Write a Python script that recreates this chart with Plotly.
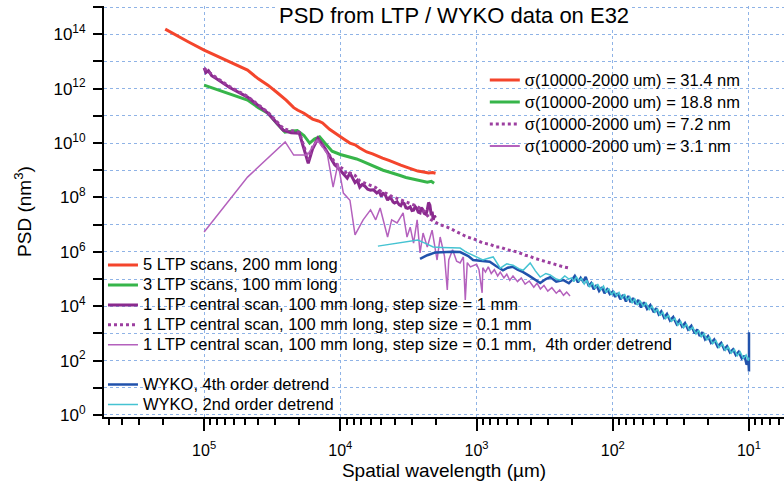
import plotly.graph_objects as go

# ---------------- data (wavelength in um, PSD in nm^3) ----------------
red_x = [1.93e5, 1.6e5, 1.3e5, 1.0e5, 8.0e4, 6.2e4, 4.8e4, 4.0e4, 3.4e4, 2.9e4, 2.5e4, 2.2e4,
         2.05e4, 1.85e4, 1.6e4, 1.45e4, 1.35e4, 1.2e4, 1.05e4, 9.5e3, 8.5e3, 7.8e3, 7.2e3, 6.4e3,
         5.8e3, 5.3e3, 4.9e3, 4.4e3, 4.0e3, 3.6e3, 3.2e3, 2.9e3, 2.7e3, 2.45e3, 2.25e3, 2.1e3, 2.0e3]
red_y = [1.55e14, 9.1e13, 5.2e13, 2.6e13, 1.55e13, 8.5e12, 4.8e12, 2.3e12, 1.35e12, 7.1e11, 3.8e11, 2.0e11,
         1.6e11, 1.25e11, 7.6e10, 6.5e10, 5.5e10, 3.2e10, 1.95e10, 1.45e10, 1.0e10, 8.6e9, 6.6e9, 4.7e9,
         4.0e9, 3.2e9, 2.8e9, 2.3e9, 1.85e9, 1.55e9, 1.25e9, 1.05e9, 9.3e8, 8.6e8, 8.0e8, 8.3e8, 7.8e8]

green_x = [1.0e5, 8.0e4, 6.2e4, 4.8e4, 4.0e4, 3.4e4, 2.9e4, 2.55e4, 2.3e4, 2.07e4, 1.85e4, 1.68e4,
           1.55e4, 1.42e4, 1.3e4, 1.15e4, 1.0e4, 9.2e3, 8.5e3, 7.6e3, 7.0e3, 6.4e3, 5.8e3, 5.3e3,
           4.85e3, 4.4e3, 4.0e3, 3.64e3, 3.3e3, 3.0e3, 2.73e3, 2.5e3, 2.3e3, 2.15e3, 2.05e3]
green_y = [1.35e12, 9.1e11, 5.9e11, 3.8e11, 2.0e11, 1.26e11, 5.0e10, 2.5e10, 2.7e10, 2.9e10, 1.9e10, 1.0e10,
           1.4e10, 1.7e10, 1.0e10, 5.0e9, 3.8e9, 3.4e9, 3.1e9, 2.6e9, 2.2e9, 1.8e9, 1.5e9, 1.25e9,
           1.0e9, 8.6e8, 7.6e8, 6.4e8, 5.4e8, 4.9e8, 4.3e8, 4.1e8, 3.6e8, 3.9e8, 3.3e8]

ltp1_x = [1.0e5, 9.7e4, 9.3e4, 8.8e4, 8.0e4, 6.5e4, 4.8e4, 3.4e4, 2.63e4, 2.3e4, 2.0e4, 1.85e4,
          1.72e4, 1.6e4, 1.46e4, 1.3e4, 1.19e4, 1.1e4, 1.05e4, 1.0e4, 9.4e3, 8.9e3, 8.5e3, 8.1e3,
          7.8e3, 7.5e3, 7.2e3, 6.9e3, 6.6e3, 6.3e3, 6.0e3, 5.7e3, 5.4e3, 5.2e3, 5.0e3, 4.85e3,
          4.7e3, 4.5e3, 4.35e3, 4.2e3, 4.1e3, 4.0e3, 3.83e3, 3.7e3, 3.6e3, 3.5e3, 3.4e3, 3.3e3,
          3.2e3, 3.07e3, 2.98e3, 2.9e3, 2.82e3, 2.75e3, 2.68e3, 2.6e3, 2.55e3, 2.5e3, 2.42e3,
          2.35e3, 2.3e3, 2.25e3, 2.2e3, 2.15e3, 2.12e3, 2.08e3, 2.04e3, 2.0e3]
ltp1_y = [5.8e12, 3.9e12, 4.6e12, 3.0e12, 2.2e12, 1.1e12, 4.9e11, 1.26e11, 3.0e10, 2.4e10, 2.3e10, 6.0e9,
          1.8e9, 6.0e9, 1.5e10, 6.5e9, 3.1e9, 1.6e9, 1.3e9, 1.0e9, 7.0e8, 5.1e8, 7.9e8, 4.6e8,
          3.5e8, 4.2e8, 2.4e8, 3.0e8, 2.6e8, 2.0e8, 1.86e8, 1.9e8, 1.45e8, 1.7e8, 1.1e8, 1.4e8,
          1.3e8, 7.9e7, 1.0e8, 8.5e7, 6.8e7, 6.2e7, 7.0e7, 5.4e7, 5.0e7, 6.6e7, 6.0e7, 4.2e7,
          4.0e7, 4.5e7, 3.3e7, 3.4e7, 4.6e7, 4.0e7, 2.9e7, 2.7e7, 4.2e7, 3.8e7, 2.6e7,
          2.4e7, 3.5e7, 6.5e7, 5.2e7, 2.2e7, 3.0e7, 1.5e7, 2.1e7, 1.8e7]

ltp01_x = [1.0e5, 9.5e4, 9.0e4, 8.0e4, 6.5e4, 4.8e4, 3.4e4, 2.6e4, 2.0e4, 1.85e4, 1.72e4, 1.6e4,
           1.46e4, 1.3e4, 1.19e4, 1.05e4, 9.5e3, 8.9e3, 8.5e3, 7.8e3, 7.2e3, 6.5e3, 6.0e3, 5.5e3,
           5.0e3, 4.6e3, 4.2e3, 3.9e3, 3.5e3, 3.2e3, 3.0e3, 2.75e3, 2.6e3, 2.4e3, 2.2e3, 2.0e3,
           1.8e3, 1.64e3, 1.5e3, 1.35e3, 1.17e3, 1.05e3, 9.5e2, 8.95e2, 8.0e2, 7.2e2, 6.7e2, 6.0e2,
           5.5e2, 5.0e2, 4.4e2, 4.1e2, 3.8e2, 3.5e2, 3.3e2, 2.9e2, 2.7e2, 2.5e2, 2.3e2, 2.06e2]
ltp01_y = [5.5e12, 4.5e12, 3.8e12, 2.4e12, 1.2e12, 5.2e11, 1.35e11, 3.3e10, 2.5e10, 8.0e9, 2.5e9, 7.0e9,
           1.4e10, 6.0e9, 3.4e9, 1.5e9, 1.1e9, 7.0e8, 8.0e8, 6.5e8, 4.0e8, 3.2e8, 2.6e8, 2.3e8,
           1.6e8, 1.4e8, 1.1e8, 9.5e7, 7.5e7, 6.5e7, 5.5e7, 4.8e7, 4.0e7, 3.0e7, 1.6e7, 1.2e7,
           9.5e6, 8.1e6, 6.5e6, 5.0e6, 3.5e6, 3.0e6, 2.3e6, 2.1e6, 1.9e6, 1.5e6, 1.5e6, 1.2e6,
           1.1e6, 9.8e5, 7.5e5, 7.0e5, 5.9e5, 5.2e5, 4.6e5, 3.9e5, 3.5e5, 3.1e5, 2.8e5, 2.5e5]

det_x = [1.0e5, 4.8e4, 2.54e4, 2.2e4, 1.75e4, 1.48e4, 1.25e4, 1.13e4, 1.04e4, 9.5e3, 8.5e3, 7.8e3,
         6.8e3, 6.0e3, 5.5e3, 5.1e3, 4.5e3, 4.2e3, 3.83e3, 3.46e3, 3.24e3, 3.07e3, 2.9e3, 2.73e3,
         2.6e3, 2.47e3, 2.3e3, 2.12e3, 1.95e3, 1.85e3, 1.72e3, 1.64e3, 1.6e3, 1.5e3, 1.4e3, 1.32e3,
         1.25e3, 1.21e3, 1.17e3, 1.11e3, 1.0e3, 9.6e2, 9.1e2, 9.0e2, 8.6e2, 8.2e2, 7.8e2, 7.4e2,
         7.0e2, 6.7e2, 6.3e2, 6.0e2, 5.7e2, 5.4e2, 5.0e2, 4.7e2, 4.4e2, 4.1e2, 3.8e2, 3.6e2,
         3.4e2, 3.2e2, 3.0e2, 2.8e2, 2.6e2, 2.45e2, 2.3e2, 2.18e2, 2.06e2]
det_y = [5.4e6, 5.6e8, 1.1e10, 3.6e9, 3.6e9, 1.3e10, 4.3e9, 2.4e8, 1.8e9, 1.45e8, 7.9e7, 4.2e6,
         1.5e7, 3.5e7, 1.5e7, 4.1e7, 3.5e6, 1.5e7, 1.15e7, 2.7e7, 3.5e6, 8.1e6, 2.1e6, 1.5e7,
         9.1e5, 4.9e6, 1.5e6, 6.3e6, 5.0e5, 3.5e6, 7.0e5, 4.0e4, 5.0e5, 1.2e6, 4.5e5, 3.9e5,
         6.5e5, 1.7e4, 4.0e5, 2.8e5, 3.5e5, 2.2e5, 3.1e4, 2.6e5, 1.8e5, 2.8e5, 1.6e5, 2.2e5,
         1.3e5, 1.8e5, 1.1e5, 1.5e5, 9.0e4, 1.3e5, 8.0e4, 1.1e5, 6.5e4, 8.5e4, 5.0e4, 7.0e4,
         4.3e4, 5.8e4, 3.6e4, 4.8e4, 3.0e4, 4.0e4, 2.5e4, 3.3e4, 2.4e4]

wyko4_x = [2.6e3, 2.3e3, 2.0e3, 1.75e3, 1.5e3, 1.32e3, 1.15e3, 1.06e3, 9.4e2, 8.0e2, 7.2e2, 6.4e2,
           5.9e2, 5.4e2, 5.0e2, 4.55e2, 4.1e2, 3.7e2, 3.41e2, 3.1e2, 2.88e2, 2.6e2, 2.3e2, 2.1e2,
           200, 190, 180, 172, 165, 158, 150, 144, 138, 132, 126, 120, 115, 110, 105, 100,
           96, 92, 88, 84, 80, 77, 74, 71, 68, 65, 62, 59, 56, 53, 50, 48, 46, 44, 42, 40,
           38, 36, 34, 32.5, 31, 29.5, 28, 26.5, 25, 24, 23, 22, 21, 20, 19, 18, 17, 16,
           15.2, 14.5, 13.8, 13.1, 12.5, 11.9, 11.3, 10.8, 10.4, 10.1, 10.0, 10.0]
wyko4_y = [5.5e5, 7.5e5, 9.5e5, 1.0e6, 1.0e6, 9.8e5, 7.0e5, 5.0e5, 4.6e5, 4.3e5, 3.0e5, 2.1e5,
           2.6e5, 2.8e5, 2.2e5, 1.8e5, 1.3e5, 9.0e4, 7.1e4, 1.0e5, 1.18e5, 8.0e4, 9.1e4, 7.0e4,
           9.0e4, 1.3e5, 7.5e4, 1.1e5, 8.0e4, 1.2e5, 5.5e4, 7.0e4, 4.2e4, 6.0e4, 3.6e4, 5.0e4,
           3.0e4, 4.2e4, 2.8e4, 3.4e4, 2.2e4, 3.0e4, 1.8e4, 2.6e4, 1.5e4, 2.4e4, 1.4e4, 2.0e4,
           1.2e4, 1.7e4, 9.0e3, 1.4e4, 8.0e3, 1.1e4, 6.0e3, 8.5e3, 5.0e3, 6.5e3, 3.8e3, 5.2e3,
           3.0e3, 4.0e3, 2.2e3, 3.0e3, 1.8e3, 2.4e3, 1.4e3, 1.9e3, 1.0e3, 1.4e3, 8.0e2, 1.1e3,
           6.0e2, 8.0e2, 4.5e2, 6.0e2, 3.3e2, 4.5e2, 2.6e2, 3.4e2, 2.0e2, 2.6e2, 1.6e2, 2.1e2,
           1.2e2, 1.5e2, 7.0e1, 1.0e2, 4.0e1, 1.1e3]

wyko2_x = [5.3e3, 4.0e3, 3.2e3, 2.7e3, 2.35e3, 2.08e3, 1.8e3, 1.56e3, 1.32e3, 1.2e3, 1.06e3, 9.0e2,
           8.2e2, 7.55e2, 6.7e2, 6.0e2, 5.4e2, 4.9e2, 4.55e2, 4.04e2, 3.7e2, 3.41e2, 3.1e2, 2.88e2,
           2.6e2, 2.43e2, 2.25e2, 2.1e2,
           200, 193, 185, 177, 170, 162, 155, 148, 141, 135, 129, 123, 117, 112, 107, 102,
           98, 94, 90, 86, 82, 78.5, 75, 72, 69, 66, 63, 60, 57, 54, 51.5, 49, 47, 45, 43, 41,
           39, 37, 35, 33.3, 31.7, 30.2, 28.8, 27.3, 25.9, 24.5, 23.4, 22.4, 21.4, 20.4, 19.5,
           18.5, 17.5, 16.6, 15.7, 14.9, 14.2, 13.5, 12.8, 12.2, 11.6, 11.0, 10.5, 10.1, 10.0]
wyko2_y = [1.62e6, 2.0e6, 2.4e6, 2.7e6, 2.0e6, 1.5e6, 1.45e6, 1.38e6, 1.38e6, 1.0e6, 7.6e5, 5.0e5,
           5.8e5, 6.5e5, 2.5e5, 3.6e5, 3.2e5, 2.4e5, 2.1e5, 3.9e5, 2.0e5, 1.18e5, 1.6e5, 1.41e5,
           1.0e5, 9.1e4, 1.3e5, 1.0e5,
           1.1e5, 8.0e4, 1.2e5, 8.5e4, 1.05e5, 6.5e4, 9.0e4, 5.0e4, 7.5e4, 4.5e4, 6.5e4, 4.0e4,
           5.5e4, 3.2e4, 4.5e4, 2.6e4, 3.6e4, 2.4e4, 3.2e4, 1.9e4, 2.8e4, 1.7e4, 2.2e4, 1.3e4,
           1.9e4, 1.1e4, 1.6e4, 1.0e4, 1.3e4, 7.5e3, 1.0e4, 6.0e3, 8.0e3, 4.5e3, 6.0e3, 3.5e3,
           4.6e3, 2.8e3, 3.6e3, 2.0e3, 2.7e3, 1.6e3, 2.2e3, 1.3e3, 1.7e3, 9.5e2, 1.3e3, 7.5e2,
           1.0e3, 5.8e2, 7.5e2, 4.2e2, 5.5e2, 3.0e2, 4.2e2, 2.4e2, 3.2e2, 1.9e2, 2.6e2, 1.5e2,
           2.1e2, 1.2e2, 1.6e2, 1.0e2, 1.3e2]

series_names = ["5 LTP scans, 200 mm long",
                "3 LTP scans, 100 mm long",
                "1 LTP central scan, 100 mm long, step size = 1 mm",
                "1 LTP central scan, 100 mm long, step size = 0.1 mm",
                "1 LTP central scan, 100 mm long, step size = 0.1 mm,  4th order detrend",
                "WYKO, 4th order detrend",
                "WYKO, 2nd order detrend"]
sigma_names = ["σ(10000-2000 um) = 31.4 nm",
               "σ(10000-2000 um) = 18.8 nm",
               "σ(10000-2000 um) = 7.2 nm",
               "σ(10000-2000 um) = 3.1 nm"]

x_tick_exp = [1, 2, 3, 4, 5]
y_label_exp = [0, 2, 4, 6, 8, 10, 12, 14]
y_minor_exp = [1, 3, 5, 7, 9, 11, 13, 15]

# ---------------- styles ----------------
RED = "#f4452c"
GREEN = "#37b54a"
PURPLE = "#8a2a8e"
PURPLE_DOT = "#9c3fa0"
ORCHID = "#b461bd"
BLUE = "#2152ac"
CYAN = "#45c3d2"
GRID = "#8fb3e6"
FONT = "Liberation Sans, Arial, Helvetica, sans-serif"


def big(t, size):
    return '<span style="font-size:%spx">%s</span>' % (size, t)


fig = go.Figure()

styles = [
    (red_x, red_y, RED, 3, "solid"),
    (green_x, green_y, GREEN, 3, "solid"),
    (ltp1_x, ltp1_y, PURPLE, 3, "solid"),
    (ltp01_x, ltp01_y, PURPLE_DOT, 3, "dot"),
    (det_x, det_y, ORCHID, 1.5, "solid"),
]
for (xs, ys, c, w, d), nm in zip(styles, series_names[:5]):
    fig.add_trace(go.Scatter(x=xs, y=ys, mode="lines", name=big(nm, 16.5),
                             line=dict(color=c, width=w, dash=d),
                             legend="legend2", legendgroup="ltp"))

fig.add_trace(go.Scatter(x=wyko4_x, y=wyko4_y, mode="lines", name=big(series_names[5], 16.5),
                         line=dict(color=BLUE, width=2.5), legend="legend2", legendgroup="wyko"))
fig.add_trace(go.Scatter(x=wyko2_x, y=wyko2_y, mode="lines", name=big(series_names[6], 16.5),
                         line=dict(color=CYAN, width=1.5), legend="legend2", legendgroup="wyko"))

# sigma legend (upper right)
for nm, c, w, d in zip(sigma_names, [RED, GREEN, PURPLE_DOT, ORCHID], [3, 3, 3, 2],
                       ["solid", "solid", "dot", "solid"]):
    fig.add_trace(go.Scatter(x=[None], y=[None], mode="lines", name=big(nm, 16.5),
                             line=dict(color=c, width=w, dash=d), legend="legend"))

fig.update_layout(
    width=784, height=489,
    margin=dict(l=104, r=0, t=6, b=72, autoexpand=False),
    paper_bgcolor="white", plot_bgcolor="white",
    font=dict(family=FONT, color="black"),
    showlegend=True,
    legend=dict(x=0.56, y=0.859, xanchor="left", yanchor="top", bgcolor="rgba(0,0,0,0)",
                font=dict(size=14.6, family=FONT), traceorder="normal"),
    legend2=dict(x=-0.0015, y=0.406, xanchor="left", yanchor="top", bgcolor="rgba(0,0,0,0)",
                 font=dict(size=13, family=FONT), traceorder="grouped", tracegroupgap=20),
    annotations=[dict(text="PSD from LTP / WYKO data on E32", xref="paper", yref="paper",
                      x=0.515, y=0.978, xanchor="center", yanchor="middle", showarrow=False,
                      bgcolor="white", font=dict(size=22, family=FONT))],
)

fig.update_xaxes(
    type="log", range=[5.735, 0.743], automargin=False,
    tickvals=[10 ** e for e in x_tick_exp],
    ticktext=["10<sup>%d</sup>" % e for e in x_tick_exp],
    ticks="outside", ticklen=12, tickwidth=1.5, tickcolor="black",
    tickfont=dict(size=16, family=FONT), ticklabelstandoff=6,
    showline=True, linecolor="black", linewidth=2,
    showgrid=True, gridcolor=GRID, griddash="dot", gridwidth=1, zeroline=False,
    minor=dict(tickmode="array",
               tickvals=[m * 10 ** e for e in range(0, 6) for m in range(2, 10)],
               ticks="outside", ticklen=6, tickwidth=1.5, tickcolor="black", showgrid=False),
    title=dict(text="Spatial wavelength (µm)", font=dict(size=19, family=FONT), standoff=5),
)
fig.update_yaxes(
    type="log", range=[-0.074, 15.04], automargin=False,
    tickvals=[10 ** e for e in y_label_exp],
    ticktext=["10<sup>%d</sup>" % e for e in y_label_exp],
    ticks="outside", ticklen=9, tickwidth=1.5, tickcolor="black",
    tickfont=dict(size=17, family=FONT), ticklabelstandoff=4,
    showline=True, linecolor="black", linewidth=2,
    showgrid=True, gridcolor=GRID, griddash="dot", gridwidth=1, zeroline=False,
    minor=dict(tickmode="array", tickvals=[10 ** e for e in y_minor_exp],
               ticks="outside", ticklen=9, tickwidth=1.5, tickcolor="black",
               showgrid=True, gridcolor=GRID, griddash="dot", gridwidth=1),
    title=dict(text="PSD (nm<sup>3</sup>)", font=dict(size=19, family=FONT), standoff=17),
)

fig.write_html("out.html", config={"displayModeBar": False},
               post_script="document.body.style.margin='0px';")
